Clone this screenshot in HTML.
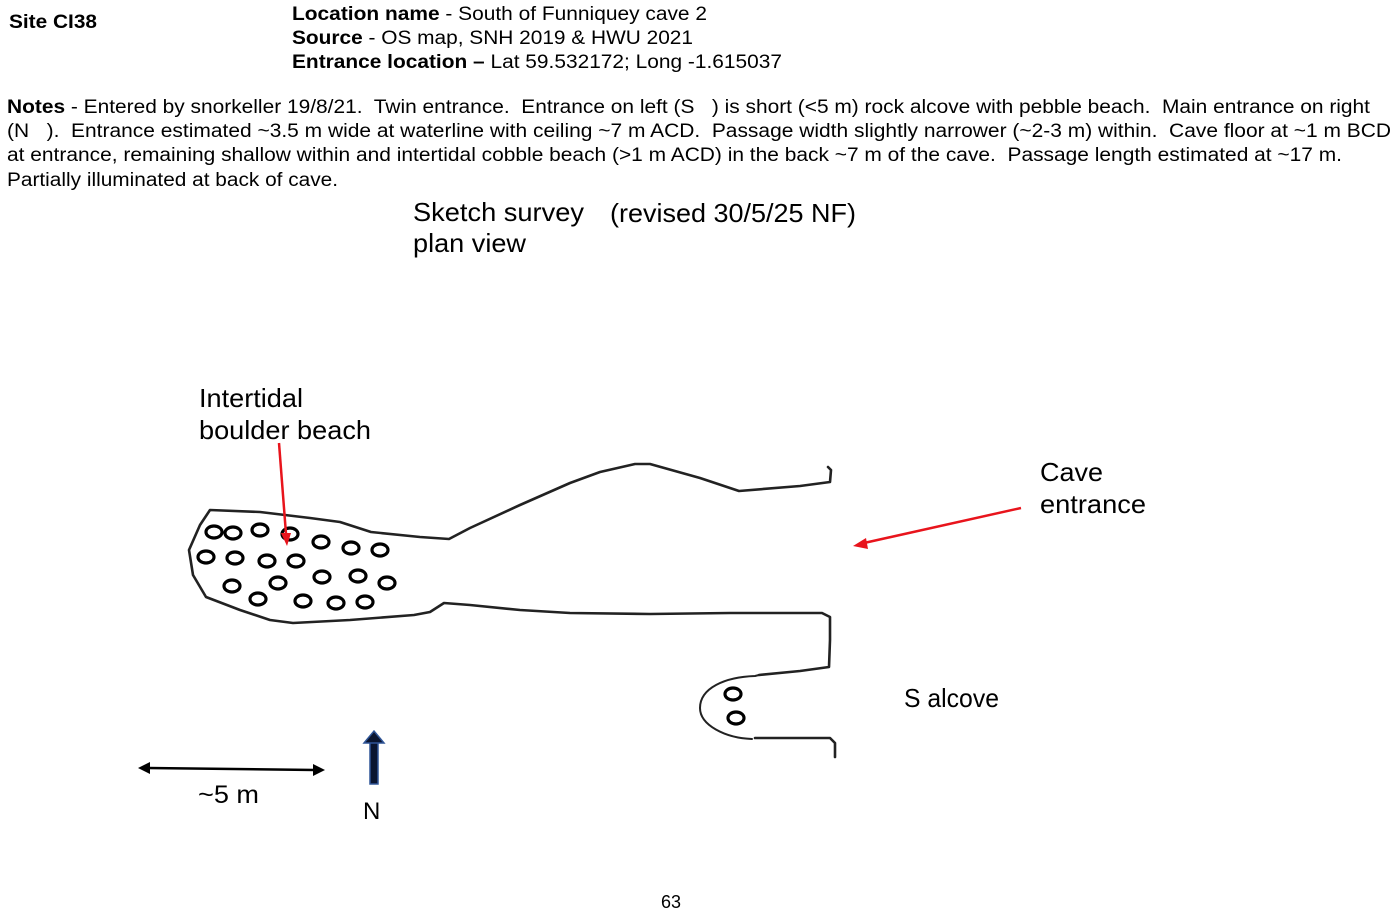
<!DOCTYPE html>
<html><head><meta charset="utf-8"><style>
html,body{margin:0;padding:0;background:#fff;}
svg{display:block}
text{font-family:"Liberation Sans",Arial,sans-serif;fill:#000;white-space:pre}
.b{font-weight:bold}
</style></head><body>
<svg width="1398" height="916" viewBox="0 0 1398 916" xmlns="http://www.w3.org/2000/svg" xml:space="preserve">
<text x="9" y="28" font-size="19" class="b" textLength="88" lengthAdjust="spacingAndGlyphs">Site CI38</text>
<text x="292" y="20" font-size="19" textLength="415" lengthAdjust="spacingAndGlyphs"><tspan class="b">Location name</tspan> - South of Funniquey cave 2</text>
<text x="292" y="44" font-size="19" textLength="401" lengthAdjust="spacingAndGlyphs"><tspan class="b">Source</tspan> - OS map, SNH 2019 &amp; HWU 2021</text>
<text x="292" y="68" font-size="19" textLength="490" lengthAdjust="spacingAndGlyphs"><tspan class="b">Entrance location –</tspan> Lat 59.532172; Long -1.615037</text>
<text x="7" y="113" font-size="19" textLength="1363" lengthAdjust="spacingAndGlyphs"><tspan class="b">Notes</tspan> - Entered by snorkeller 19/8/21.  Twin entrance.  Entrance on left (S   ) is short (&lt;5 m) rock alcove with pebble beach.  Main entrance on right</text>
<text x="7" y="137" font-size="19" textLength="1384" lengthAdjust="spacingAndGlyphs">(N   ).  Entrance estimated ~3.5 m wide at waterline with ceiling ~7 m ACD.  Passage width slightly narrower (~2-3 m) within.  Cave floor at ~1 m BCD</text>
<text x="7" y="161" font-size="19" textLength="1335" lengthAdjust="spacingAndGlyphs">at entrance, remaining shallow within and intertidal cobble beach (&gt;1 m ACD) in the back ~7 m of the cave.  Passage length estimated at ~17 m.</text>
<text x="7" y="186" font-size="19" textLength="331" lengthAdjust="spacingAndGlyphs">Partially illuminated at back of cave.</text>

<text x="413" y="221" font-size="26" textLength="171" lengthAdjust="spacingAndGlyphs" fill="#222">Sketch survey</text>
<text x="413" y="252" font-size="26" textLength="113" lengthAdjust="spacingAndGlyphs" fill="#222">plan view</text>
<text x="610" y="222" font-size="26" textLength="246" lengthAdjust="spacingAndGlyphs">(revised 30/5/25 NF)</text>
<text x="199" y="407" font-size="26" textLength="104" lengthAdjust="spacingAndGlyphs" fill="#222">Intertidal</text>
<text x="199" y="439" font-size="26" textLength="172" lengthAdjust="spacingAndGlyphs" fill="#222">boulder beach</text>
<text x="1040" y="481" font-size="26" textLength="63" lengthAdjust="spacingAndGlyphs" fill="#222">Cave</text>
<text x="1040" y="513" font-size="26" textLength="106" lengthAdjust="spacingAndGlyphs" fill="#222">entrance</text>
<text x="904" y="707" font-size="26" textLength="95" lengthAdjust="spacingAndGlyphs">S alcove</text>
<text x="198" y="803" font-size="25" textLength="61" lengthAdjust="spacingAndGlyphs" fill="#222">~5 m</text>
<text x="363" y="819" font-size="24" fill="#222">N</text>
<text x="661" y="908" font-size="18">63</text>

<g fill="none" stroke="#222" stroke-width="2.6" stroke-linejoin="round" stroke-linecap="round">
<path d="M828,467 L831,470 L830,482 L800,486 L739,491 L700,478 L650,464 L635,464 L600,472 L570,483 L520,505 L470,528 L449,539 L420,537 L371,532 L340,522 L310,518 L260,512 L210,510 L200,525 L189,550 L193,575 L206,597 L240,610 L270,620 L293,623 L350,620 L414,615 L430,612 L444,603 L470,605 L520,610 L570,613 L650,614 L730,613 L822,613 L830,617 L830,640 L829,667 L800,671 L759,675"/>
<path d="M759,675 L755,676 C725,677 700,688 700,708 C700,725 725,738 752,739" stroke-width="2"/>
<path d="M755,738 L800,738 L830,738 L835,743 L835,757"/>
</g>
<g fill="none" stroke="#000" stroke-width="3.2">
<ellipse cx="214" cy="532" rx="8" ry="6"/><ellipse cx="233" cy="533" rx="8" ry="6"/><ellipse cx="260" cy="530" rx="8" ry="6"/><ellipse cx="290" cy="534" rx="8" ry="6"/><ellipse cx="321" cy="542" rx="8" ry="6"/><ellipse cx="351" cy="548" rx="8" ry="6"/><ellipse cx="380" cy="550" rx="8" ry="6"/>
<ellipse cx="206" cy="557" rx="8" ry="6"/><ellipse cx="235" cy="558" rx="8" ry="6"/><ellipse cx="267" cy="561" rx="8" ry="6"/><ellipse cx="296" cy="561" rx="8" ry="6"/>
<ellipse cx="232" cy="586" rx="8" ry="6"/><ellipse cx="278" cy="583" rx="8" ry="6"/><ellipse cx="322" cy="577" rx="8" ry="6"/><ellipse cx="358" cy="576" rx="8" ry="6"/><ellipse cx="387" cy="583" rx="8" ry="6"/>
<ellipse cx="258" cy="599" rx="8" ry="6"/><ellipse cx="303" cy="601" rx="8" ry="6"/><ellipse cx="336" cy="603" rx="8" ry="6"/><ellipse cx="365" cy="602" rx="8" ry="6"/>
<ellipse cx="733" cy="694" rx="8" ry="6"/><ellipse cx="736" cy="718" rx="8" ry="6"/>
</g>
<g stroke="#e8141c" stroke-width="2.5" fill="#e8141c">
<line x1="279" y1="443" x2="286" y2="534"/>
<polygon points="281,533 291,533 287,546" stroke="none"/>
<line x1="1021" y1="508" x2="864" y2="543"/>
<polygon points="866,538 868,549 853,546" stroke="none"/>
</g>
<g stroke="#000" stroke-width="2.5" fill="#000">
<line x1="148" y1="768" x2="315" y2="770"/>
<polygon points="138,768 150,762 150,774" stroke="none"/>
<polygon points="325,770 313,764 313,776" stroke="none"/>
</g>
<g>
<rect x="370" y="742" width="8" height="42" fill="#0a1530" stroke="#2f5597" stroke-width="1.5"/>
<polygon points="364,743 374,731 384,743" fill="#0a1530" stroke="#2f5597" stroke-width="1.5"/>
</g>
</svg>
</body></html>
